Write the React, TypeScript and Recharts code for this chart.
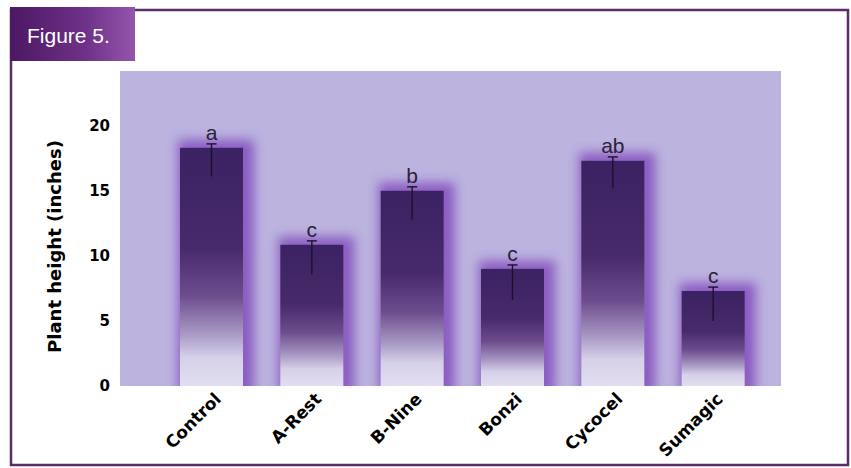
import React from 'react';
import { BarChart, Bar, XAxis, YAxis, CartesianGrid, LabelList } from 'recharts';

// values
const categories = ['Control', 'A-Rest', 'B-Nine', 'Bonzi', 'Cycocel', 'Sumagic'];
const heights = [18.3, 10.85, 15.0, 9.0, 17.3, 7.3];
const errLow = [2.2, 2.3, 2.2, 2.4, 2.1, 2.3];
const errHigh = [0.3, 0.3, 0.3, 0.3, 0.3, 0.3];
const letters = ['a', 'c', 'b', 'c', 'ab', 'c'];
const yTicks = [0, 5, 10, 15, 20];

const data = categories.map((name, i) => ({
  name,
  height: heights[i],
  errLow: errLow[i],
  errHigh: errHigh[i],
  letter: letters[i],
}));

const BOLD = '"DejaVu Sans", sans-serif';

const BarShape = (props: any) => {
  const { x, y, width, height, payload, index, background } = props;
  const perUnit = height / payload.height;
  const lowPx = payload.errLow * perUnit;
  const highPx = payload.errHigh * perUnit;
  const cx = x + width / 2;
  const bottom = background ? background.y + background.height : y + height;
  const clipId = `plotclip-${index}`;
  return (
    <g>
      <clipPath id={clipId}>
        <rect x={x - 30} y={y - 30} width={width + 60} height={bottom - y + 30} />
      </clipPath>
      <g clipPath={`url(#${clipId})`}>
        <rect
          x={x - 2}
          y={y - 8}
          width={width + 13}
          height={height + 16}
          fill="#8553bf"
          opacity={0.9}
          filter="url(#glow)"
        />
      </g>
      <rect x={x} y={y} width={width} height={height} fill="url(#barGrad)" />
      <line x1={cx} x2={cx} y1={y - highPx} y2={y + lowPx} stroke="#1c1226" strokeWidth={1.4} />
      <line x1={cx - 5} x2={cx + 5} y1={y - highPx} y2={y - highPx} stroke="#1c1226" strokeWidth={1.4} />
    </g>
  );
};

const XTick = (props: any) => {
  const { x, payload } = props;
  const tx = x + 11;
  const ty = 400;
  return (
    <text
      x={tx}
      y={ty}
      transform={`rotate(-45, ${tx}, ${ty})`}
      textAnchor="end"
      fill="#000"
      fontFamily={BOLD}
      fontWeight="bold"
      fontSize={17}
    >
      {payload.value}
    </text>
  );
};

const LetterLabel = (props: any) => {
  const { x, y, width, value } = props;
  return (
    <text
      x={x + width / 2}
      y={y - 8}
      textAnchor="middle"
      fill="#2a2238"
      fontFamily='"Liberation Sans", Arial, sans-serif'
      fontSize={21}
    >
      {value}
    </text>
  );
};

const YLabel = (props: any) => {
  const { viewBox } = props;
  const lx = viewBox.x - 19;
  const ly = viewBox.y + viewBox.height / 2 + 18;
  return (
    <text
      x={lx}
      y={ly}
      transform={`rotate(-90, ${lx}, ${ly})`}
      textAnchor="middle"
      fill="#000"
      fontFamily={BOLD}
      fontWeight="bold"
      fontSize={18}
    >
      Plant height (inches)
    </text>
  );
};

const Frame = () => (
  <svg width={851} height={468} style={{ position: 'absolute', left: 0, top: 0 }}>
    <defs>
      <linearGradient id="tabGrad" x1="0" y1="0" x2="1" y2="0">
        <stop offset="0%" stopColor="#4c1862" />
        <stop offset="60%" stopColor="#6e3188" />
        <stop offset="100%" stopColor="#9456ac" />
      </linearGradient>
    </defs>
    <rect x={11} y={10} width={837} height={455} fill="#fff" stroke="#5b2b6b" strokeWidth={2.5} />
    <rect x={10} y={7} width={125} height={54} fill="url(#tabGrad)" />
    <text x={27} y={43} fill="#fff" fontFamily='"Liberation Sans", Arial, sans-serif' fontSize={21}>
      Figure 5.
    </text>
  </svg>
);

export default function App() {
  return (
    <div style={{ position: 'absolute', left: 0, top: 0, width: 851, height: 468, background: '#fff' }}>
      <Frame />
      <div style={{ position: 'absolute', left: 0, top: 0 }}>
        <BarChart
          width={851}
          height={468}
          data={data}
          margin={{ top: 71, right: 70, bottom: 22, left: 80 }}
        >
          <defs>
            <linearGradient id="barGrad" x1="0" y1="0" x2="0" y2="1">
              <stop offset="0%" stopColor="#3b2262" />
              <stop offset="42%" stopColor="#472a6a" />
              <stop offset="62%" stopColor="#6c4c8c" />
              <stop offset="78%" stopColor="#a898c4" />
              <stop offset="88%" stopColor="#d6d0e8" />
              <stop offset="100%" stopColor="#e2def0" />
            </linearGradient>
            <filter id="glow" x="-50%" y="-50%" width="200%" height="200%">
              <feGaussianBlur stdDeviation="5.5" />
            </filter>
          </defs>
          <CartesianGrid horizontal={false} vertical={false} fill="#bcb3df" />
          <XAxis
            dataKey="name"
            interval={0}
            height={60}
            tickLine={false}
            axisLine={false}
            padding={{ left: 41, right: 18 }}
            tick={<XTick />}
          />
          <YAxis
            width={40}
            domain={[0, 24.2]}
            ticks={yTicks}
            tickLine={false}
            axisLine={false}
            tickSize={0}
            tickMargin={10}
            tick={{ fill: '#000', fontSize: 15, fontWeight: 'bold', fontFamily: BOLD }}
            label={<YLabel />}
          />
          <Bar dataKey="height" barSize={63} shape={<BarShape />} isAnimationActive={false}>
            <LabelList dataKey="letter" content={<LetterLabel />} />
          </Bar>
        </BarChart>
      </div>
    </div>
  );
}
